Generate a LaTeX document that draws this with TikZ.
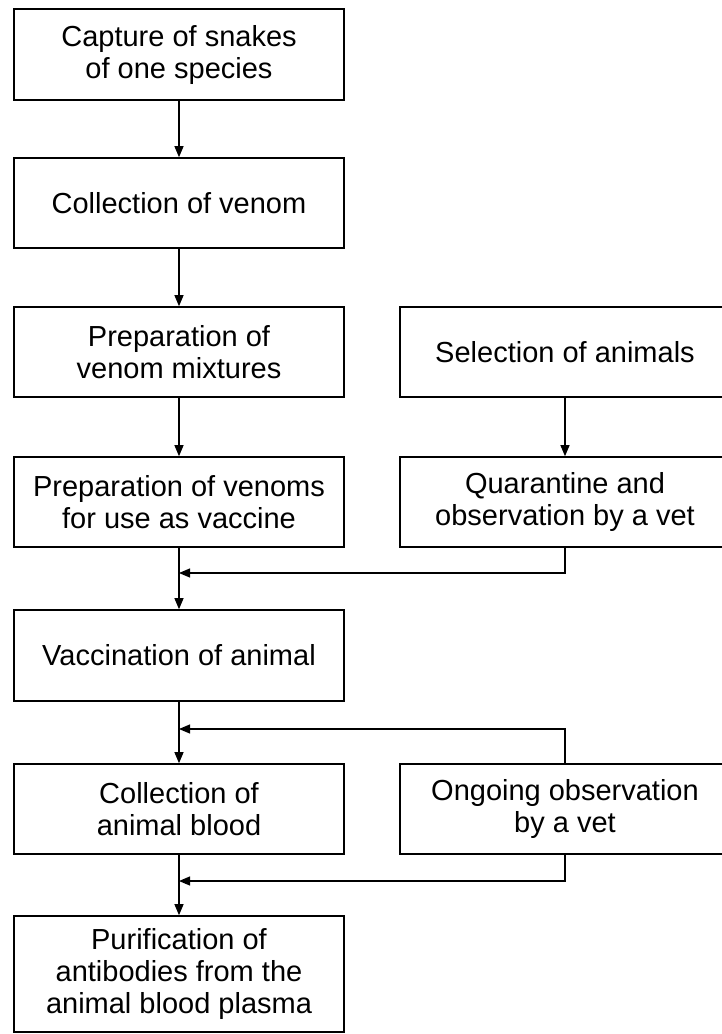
\documentclass[tikz,border=0pt]{standalone}
\usepackage{fontspec}
\setmainfont{Liberation Sans}
\usepackage{tikz}
\usetikzlibrary{arrows.meta}

\begin{document}
\begin{tikzpicture}[x=1pt,y=-1pt,
    stage/.style={draw, line width=1.6pt, minimum width=330pt, minimum height=90pt,
                  align=center, inner sep=0pt, font=\fontsize{29}{32}\selectfont},
    link/.style={line width=1.1pt, -{Triangle[length=11pt,width=9pt]}}]

\useasboundingbox (0,0) rectangle (721,1034);

\node [stage, minimum height=91pt] (capture) at (179,54.5) {Capture of snakes\\of one species};
\node [stage] (venom) at (179,203) {Collection of venom};
\node [stage] (mixture) at (179,352) {Preparation of\\venom mixtures};
\node [stage] (vaccine) at (179,502) {Preparation of venoms\\for use as vaccine};
\node [stage, minimum height=91pt] (inject) at (179,655.5) {Vaccination of animal};
\node [stage] (blood) at (179,809) {Collection of\\animal blood};
\node [stage, minimum height=116pt] (purify) at (179,974) {Purification of\\antibodies from the\\animal blood plasma};

\node [stage] (select) at (565,352) {Selection of animals};
\node [stage] (quarantine) at (565,502) {Quarantine and\\observation by a vet};
\node [stage] (watch) at (565,809) {Ongoing observation\\by a vet};

\coordinate (j1) at (179,573);
\coordinate (j2) at (179,729);
\coordinate (j3) at (179,881);

\foreach \a/\b in {capture/venom, venom/mixture, mixture/vaccine, vaccine/inject,
                   inject/blood, blood/purify, select/quarantine}
    \draw [link] (\a) -- (\b);

\draw [link] (quarantine.south) |- (j1);
\draw [link] (watch.north) |- (j2);
\draw [link] (watch.south) |- (j3);

\end{tikzpicture}
\end{document}
